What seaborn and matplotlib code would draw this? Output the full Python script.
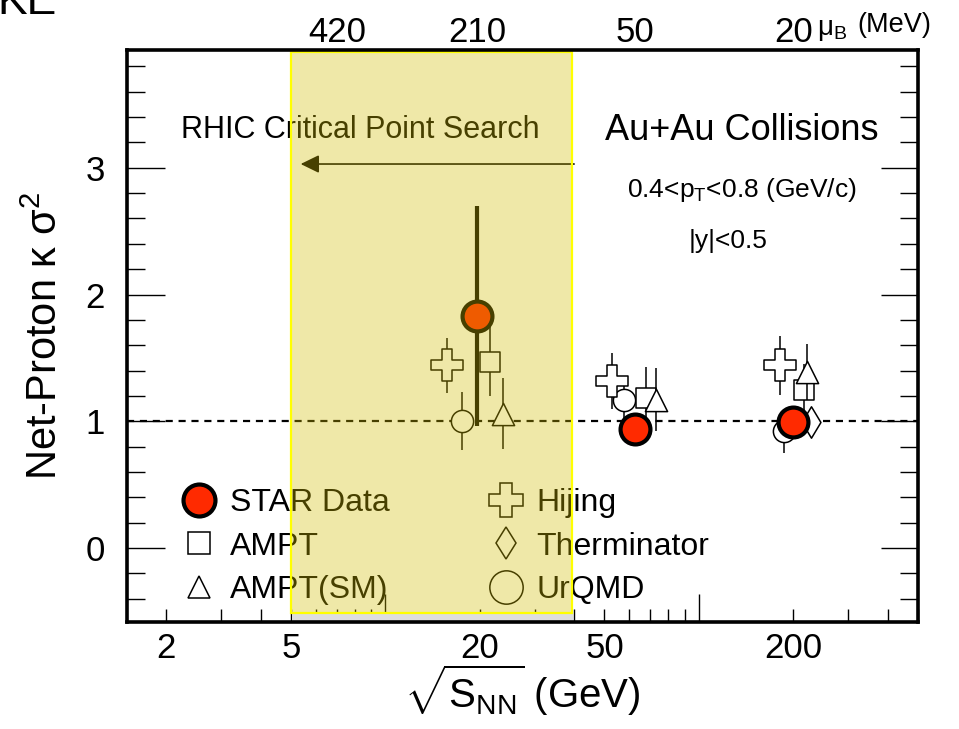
import numpy as np
import pandas as pd
import matplotlib
matplotlib.use("Agg")
import matplotlib.pyplot as plt
from matplotlib.patches import Rectangle
from matplotlib.lines import Line2D
import seaborn as sns

# ---- data: net-proton kappa*sigma^2 versus collision energy ----
star_energy = [19.6, 62.4, 200.0]
star_value = [1.83, 0.94, 0.99]
star_error = [0.87, 0.05, 0.05]

hijing_energy = [15.7, 52.8, 181.0]
hijing_value = [1.44, 1.32, 1.44]
hijing_error = [0.22, 0.22, 0.23]

ampt_energy = [21.5, 67.7, 216.0]
ampt_value = [1.47, 1.18, 1.25]
ampt_error = [0.27, 0.25, 0.20]

amptsm_energy = [23.7, 72.9, 222.0]
amptsm_value = [1.06, 1.17, 1.39]
amptsm_error = [0.28, 0.25, 0.22]

therminator_energy = [228.0]
therminator_value = [0.99]
therminator_error = [0.0]

urqmd_energy = [17.5, 57.6, 187.0]
urqmd_value = [1.00, 1.17, 0.92]
urqmd_error = [0.23, 0.17, 0.17]

# baryon chemical potential labels on the top axis
mu_b_energy = [7.0, 19.6, 62.4, 200.0]
mu_b_labels = ["420", "210", "50", "20"]

# log-axis tick positions and labels (GeV)
minor_tick_energy = [2, 3, 4, 5, 6, 7, 8, 9, 20, 30, 40, 50, 60, 70, 80, 90,
                     200, 300, 400, 500]
minor_tick_labels = ["2", "", "", "5", "", "", "", "", "20", "", "", "50",
                     "", "", "", "", "200", "", "", ""]
major_tick_energy = [10, 100]

# energy range of the critical point search
search_range = [5.0, 39.5]

# ---- style ----
sns.set_theme(style="ticks")
plt.rcParams["font.family"] = ["Liberation Sans", "DejaVu Sans"]
plt.rcParams["mathtext.fontset"] = "custom"
plt.rcParams["mathtext.rm"] = "Liberation Sans"
plt.rcParams["mathtext.it"] = "Liberation Sans:italic"
plt.rcParams["mathtext.bf"] = "Liberation Sans:bold"
for key in ["text.color", "axes.labelcolor", "xtick.color", "ytick.color",
            "axes.edgecolor"]:
    plt.rcParams[key] = "black"

fig = plt.figure(figsize=(9.59, 7.29), dpi=100)
ax = fig.add_axes([127 / 959, 1 - 622 / 729, (918 - 127) / 959, (622 - 50) / 729])
ax.set_xscale("log")
ax.set_xlim(1.5, 500)
ax.set_ylim(-0.585, 3.93)

frames = []
for name, e, v, err in [
    ("STAR Data", star_energy, star_value, star_error),
    ("Hijing", hijing_energy, hijing_value, hijing_error),
    ("AMPT", ampt_energy, ampt_value, ampt_error),
    ("AMPT(SM)", amptsm_energy, amptsm_value, amptsm_error),
    ("Therminator", therminator_energy, therminator_value, therminator_error),
    ("UrQMD", urqmd_energy, urqmd_value, urqmd_error),
]:
    frames.append(pd.DataFrame({"model": name, "energy": e, "value": v, "error": err}))
df = pd.concat(frames, ignore_index=True)

styles = {
    "UrQMD":       dict(marker="o", ms=16, fc="white", lw=1.1, elw=1.1, z=3),
    "Therminator": dict(marker="d", ms=16, fc="white", lw=1.1, elw=1.1, z=3.2),
    "AMPT":        dict(marker="s", ms=15, fc="white", lw=1.1, elw=1.1, z=3.4),
    "AMPT(SM)":    dict(marker="^", ms=16, fc="white", lw=1.1, elw=1.1, z=3.6),
    "Hijing":      dict(marker="P", ms=23, fc="white", lw=1.1, elw=1.1, z=3.8),
    "STAR Data":   dict(marker="o", ms=21.5, fc="#ff2a00", lw=3.0, elw=3.0, z=4.5),
}

# reference line at kappa*sigma^2 = 1
ax.axhline(1.0, color="black", lw=1.6, ls=(0, (3.2, 2.6)), zorder=2)

for name, st in styles.items():
    sub = df[df["model"] == name]
    ax.errorbar(sub["energy"], sub["value"], yerr=sub["error"], fmt="none",
                ecolor="black", elinewidth=st["elw"], capsize=0, zorder=st["z"])
    sns.scatterplot(data=sub, x="energy", y="value", marker=st["marker"],
                    s=st["ms"] ** 2, facecolor=st["fc"], edgecolor="black",
                    linewidth=st["lw"], ax=ax, legend=False, zorder=st["z"] + 0.05)

# ---- axes, ticks ----
ax.set_xticks(major_tick_energy, labels=["", ""])
ax.set_xticks(minor_tick_energy, labels=minor_tick_labels, minor=True)
ax.set_yticks([0, 1, 2, 3], labels=["0", "1", "2", "3"])
ax.set_yticks(np.arange(-0.4, 3.81, 0.2), minor=True)
ax.tick_params(axis="x", which="both", direction="in", top=True, bottom=True,
               labelsize=25, pad=7, width=1.0, color="black")
ax.tick_params(axis="x", which="major", length=20)
ax.tick_params(axis="x", which="minor", length=9.5)
ax.tick_params(axis="y", which="both", direction="in", left=True, right=True,
               labelsize=25, pad=16, width=1.0, color="black")
ax.tick_params(axis="y", which="major", length=27)
ax.tick_params(axis="y", which="minor", length=13)
for sp in ax.spines.values():
    sp.set_linewidth(2.6)
    sp.set_color("black")
    sp.set_zorder(20)

ax.set_xlabel(r"$\sqrt{\mathrm{S}_{\mathrm{NN}}}$ (GeV)", fontsize=29, labelpad=-2)
ax.set_ylabel(r"Net-Proton κ $\mathrm{σ}^{2}$", fontsize=30, labelpad=14)

top = ax.twiny()
top.set_xscale("log")
top.set_xlim(ax.get_xlim())
top.set_xticks(mu_b_energy, labels=mu_b_labels)
top.xaxis.set_minor_locator(matplotlib.ticker.NullLocator())
top.tick_params(axis="x", length=0, labelsize=25, pad=1, colors="black")
for sp in top.spines.values():
    sp.set_visible(False)
fig.text(817 / 959, 1 - 35 / 729, r"$\mathrm{μ}_{\mathrm{B}}$", fontsize=20,
         ha="left", va="baseline")
fig.text(857 / 959, 1 - 32 / 729, "(MeV)", fontsize=19.5, ha="left", va="baseline")

# ---- annotations ----
ax.text(0.068, 0.86, "RHIC Critical Point Search", transform=ax.transAxes,
        fontsize=22, ha="left", va="center", zorder=3)
ax.annotate("", xy=(5.37, 3.03), xytext=(40.0, 3.03),
            arrowprops=dict(arrowstyle="-|>,head_length=0.45,head_width=0.22",
                            lw=1.2, color="black", mutation_scale=25,
                            shrinkA=0, shrinkB=0), zorder=3)
ax.text(0.777, 0.86, "Au+Au Collisions", transform=ax.transAxes,
        fontsize=26, ha="center", va="center")
ax.text(0.777, 0.755, r"0.4<p$_{\mathrm{T}}$<0.8 (GeV/c)", transform=ax.transAxes,
        fontsize=19, ha="center", va="center")
ax.text(0.760, 0.666, "|y|<0.5", transform=ax.transAxes,
        fontsize=19, ha="center", va="center")

# ---- legend ----
legend_names = ["STAR Data", "AMPT", "AMPT(SM)", "Hijing", "Therminator", "UrQMD"]
legend_ms = {"STAR Data": 23, "AMPT": 15.6, "AMPT(SM)": 16, "Hijing": 24,
             "Therminator": 16.5, "UrQMD": 24}
handles = []
for name in legend_names:
    st = styles[name]
    handles.append(Line2D([], [], ls="none", marker=st["marker"], ms=legend_ms[name],
                          mfc=st["fc"] if name == "STAR Data" else "none",
                          mec="black", mew=st["lw"]))
leg = ax.legend(handles, legend_names, ncol=2, frameon=False, fontsize=23,
                loc="upper left", bbox_to_anchor=(0.072, 0.234),
                borderpad=0, borderaxespad=0, handlelength=0.96,
                handletextpad=0.48, columnspacing=3.15, labelspacing=0.42)
for t in leg.get_texts():
    t.set_color("black")
leg.set_zorder(4)

# ---- shaded energy range, drawn over the data ----
band = Rectangle((search_range[0], -0.515), search_range[1] - search_range[0], 3.93 + 0.515 - 0.015,
                 facecolor=(210 / 255, 188 / 255, 0, 0.34), edgecolor=(1, 1, 0, 1),
                 lw=1.6, zorder=10)
ax.add_patch(band)
shadow = Rectangle((search_range[0] * 1.01, -0.585), search_range[1] - search_range[0],
                   0.07, facecolor="#dedede", edgecolor="none", zorder=1)
ax.add_patch(shadow)

fig.text(-3 / 959, 1 - 14 / 729, "KE", fontsize=32, ha="left", va="baseline")

fig.savefig("out.png", dpi=100)
